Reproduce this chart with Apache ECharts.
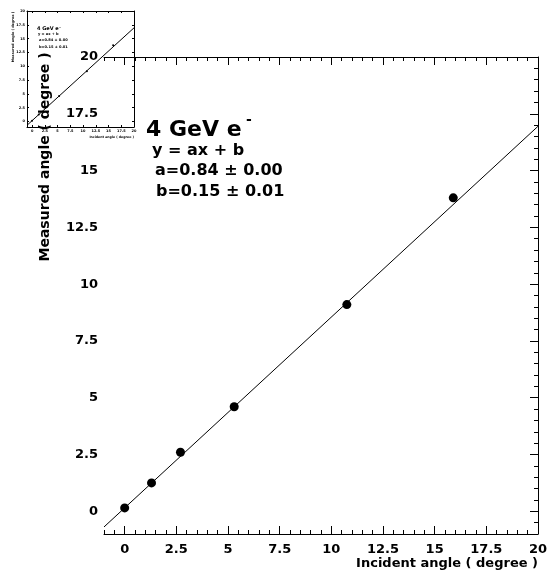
<!DOCTYPE html>
<html>
<head>
<meta charset="utf-8">
<script src="https://cdn.jsdelivr.net/npm/echarts@6/dist/echarts.min.js"></script>
<style>
  html, body { margin: 0; padding: 0; background: #fff; }
  #wrap { position: relative; width: 552px; height: 574px; }
  #inset { position: absolute; left: 0; top: 0; width: 150px; height: 150px; }
  #chart { position: absolute; left: 0; top: 0; width: 552px; height: 574px; }
</style>
</head>
<body>
<div id="wrap">
  <div id="inset"></div>
  <div id="chart"></div>
</div>
<script>
// measured points
var incident = [0, 1.3, 2.7, 5.3, 10.75, 15.9];
var measured = [0.15, 1.25, 2.6, 4.6, 9.1, 13.8];
// fitted line end points (y = 0.84x + 0.15)
var fitX = [-1, 20];
var fitY = [-0.69, 16.95];
var majorTicks = [0, 2.5, 5, 7.5, 10, 12.5, 15, 17.5, 20];

var FONT = 'DejaVu Sans';

function pairs(xs, ys) {
    var out = [];
    for (var i = 0; i < xs.length; i++) out.push([xs[i], ys[i]]);
    return out;
}

// kind 'minor' = ticks every 0.5, 'major' = ticks on majorTicks
function makeAxis(pos, kind, len, showLine, label) {
    var a = {
        type: 'value', position: pos, min: -1, max: 20,
        axisLine: { show: showLine, onZero: false, lineStyle: { color: '#000', width: 1 } },
        axisTick: { show: true, inside: true, length: len, lineStyle: { color: '#000', width: 1 } },
        axisLabel: label ? label : { show: false },
        splitLine: { show: false }
    };
    if (kind === 'minor') a.interval = 0.5;
    else a.axisTick.customValues = majorTicks;
    return a;
}

function txt(x, y, s, size, extra) {
    var st = { text: s, font: 'bold ' + size + 'px ' + FONT, fill: '#000', textVerticalAlign: 'middle' };
    for (var k in extra || {}) st[k] = extra[k];
    return { type: 'text', x: x, y: y, z: 10, style: st };
}

// ---- small copy of the plot in the corner ----
var insetChart = echarts.init(document.getElementById('inset'));
var insetLabel = function () {
    return { show: true, customValues: majorTicks, margin: 2, fontFamily: FONT,
        fontWeight: 'bold', fontSize: 3.5, color: '#000' };
};
insetChart.setOption({
    animation: false,
    grid: { left: 27, top: 11, width: 107, height: 116 },
    xAxis: [makeAxis('bottom', 'major', 2, true, insetLabel()), makeAxis('top', 'major', 2, true)],
    yAxis: [makeAxis('left', 'major', 2, true, insetLabel()), makeAxis('right', 'major', 2, true)],
    series: [
        { type: 'line', data: pairs(fitX, fitY), showSymbol: false, silent: true,
          lineStyle: { color: '#000', width: 1 } },
        { type: 'scatter', data: pairs(incident, measured), symbolSize: 2,
          itemStyle: { color: '#000', opacity: 1 } }
    ],
    graphic: [
        txt(134, 137, 'Incident angle ( degree )', 3.2, { textAlign: 'right' }),
        (function () { var t = txt(13, 37, 'Measured angle ( degree )', 3.4, { textAlign: 'center' });
                       t.rotation = Math.PI / 2; return t; })(),
        txt(37, 29, '4 GeV e\u207b', 5),
        txt(38, 34, 'y = ax + b', 3.6),
        txt(39, 40, 'a=0.84 \u00b1 0.00', 3.6),
        txt(39, 47, 'b=0.15 \u00b1 0.01', 3.6)
    ]
});

// ---- main plot ----
var chart = echarts.init(document.getElementById('chart'));
var mainLabel = function (margin) {
    return { show: true, customValues: majorTicks, margin: margin, fontFamily: FONT,
        fontWeight: 'bold', fontSize: 13, color: '#000' };
};
var yLeft = makeAxis('left', 'major', 0, false, mainLabel(6));
yLeft.axisTick.show = false;

chart.setOption({
    animation: false,
    grid: { left: 104, right: 14, top: 57, bottom: 40 },
    xAxis: [
        makeAxis('bottom', 'minor', 4, true),
        makeAxis('bottom', 'major', 8, false, mainLabel(9)),
        makeAxis('top', 'minor', 4, true),
        makeAxis('top', 'major', 8, false)
    ],
    yAxis: [
        yLeft,
        makeAxis('right', 'minor', 4, true),
        makeAxis('right', 'major', 8, false)
    ],
    series: [
        { type: 'line', xAxisIndex: 0, yAxisIndex: 0, data: pairs(fitX, fitY),
          showSymbol: false, silent: true, lineStyle: { color: '#000', width: 1 } },
        { type: 'scatter', xAxisIndex: 0, yAxisIndex: 0, data: pairs(incident, measured),
          symbolSize: 9, itemStyle: { color: '#000', opacity: 1 } }
    ],
    graphic: [
        { type: 'text', right: 14, top: 557, z: 10,
          style: { text: 'Incident angle ( degree )', font: 'bold 13px ' + FONT, fill: '#000' } },
        (function () { var t = txt(45, 157, 'Measured angle ( degree )', 14, { textAlign: 'center' });
                       t.rotation = Math.PI / 2; return t; })(),
        txt(146, 130, '4 GeV e', 22),
        txt(246, 120, '-', 14),
        txt(152, 151, 'y = ax + b', 16),
        txt(155, 171, 'a=0.84 \u00b1 0.00', 16),
        txt(156, 192, 'b=0.15 \u00b1 0.01', 16)
    ]
});
</script>
</body>
</html>
